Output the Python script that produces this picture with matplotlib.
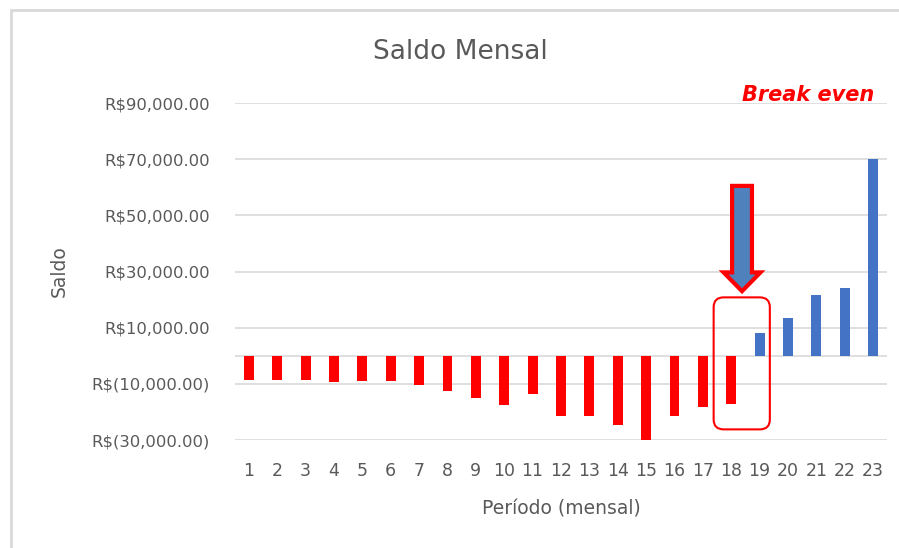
import numpy as np
import matplotlib
matplotlib.use("Agg")
import matplotlib.pyplot as plt
from matplotlib.patches import FancyBboxPatch, FancyArrow, Rectangle
from matplotlib.ticker import FuncFormatter


# monthly balance
periodos = list(range(1, 24))
saldo = [-8750, -8750, -8750, -9300, -9000, -9000, -10300, -12500, -15000,
         -17600, -13600, -21400, -21300, -24700, -30000, -21300, -18200,
         -17000, 8150, 13400, 21600, 24300, 70000]
y_ticks = list(range(-30000, 90001, 20000))
break_even = 18.5  # between period 18 and 19

cinza = "#595959"


def moeda(v, pos=None):
    if v < 0:
        return "R$({:,.2f})".format(-v)
    return "R${:,.2f}".format(v)


fig = plt.figure(figsize=(8.99, 5.48), dpi=100)
ax = fig.add_axes([0.261, 0.197, 0.726, 0.615])

# chart frame
fig.patches.append(Rectangle((11 / 899, -0.1), 1.2, 1 - 10 / 548 + 0.1,
                             transform=fig.transFigure, fill=False,
                             edgecolor="#d9d9d9", linewidth=2))

cores = ["#ff0000" if v < 0 else "#4472c4" for v in saldo]
ax.bar(periodos, saldo, width=0.35, color=cores, zorder=3)

ax.set_xlim(0.5, 23.5)
ax.set_ylim(-30000, 90000)
ax.set_yticks(y_ticks)
ax.yaxis.set_major_formatter(FuncFormatter(moeda))
ax.set_xticks(periodos)
ax.grid(axis="y", color="#d9d9d9", linewidth=1.2, zorder=0)
ax.axhline(0, color="#d9d9d9", linewidth=1.2, zorder=1)
for s in ax.spines.values():
    s.set_visible(False)
ax.tick_params(length=0, labelcolor=cinza)
ax.tick_params(axis="x", pad=16, labelsize=12.5)
ax.tick_params(axis="y", pad=18, labelsize=11.8)

ax.set_xlabel("Período (mensal)", fontsize=13.5, color=cinza, labelpad=14)
ax.set_ylabel("Saldo", fontsize=13.5, color=cinza, labelpad=16)
fig.text(0.512, 0.905, "Saldo Mensal", ha="center", va="center",
         fontsize=19, color=cinza)

# highlight around break even
caixa = FancyBboxPatch((break_even - 1.12, -26200), 1.98, 47000,
                       boxstyle="round,pad=0,rounding_size=0.35",
                       mutation_aspect=10000, fill=False,
                       edgecolor="#ff0000", linewidth=1.5, zorder=4)
ax.add_patch(caixa)
seta = FancyArrow(break_even - 0.12, 60500, 0, -37500, width=0.7,
                  head_width=1.3, head_length=6700,
                  length_includes_head=True, facecolor="#4f81bd",
                  edgecolor="#ff0000", linewidth=3, zorder=5)
ax.add_patch(seta)

fig.text(0.899, 0.826, "Break even", ha="center", va="center",
         fontsize=15, color="#ff0000", fontweight="bold", style="italic")

fig.savefig("out.png", dpi=100)
